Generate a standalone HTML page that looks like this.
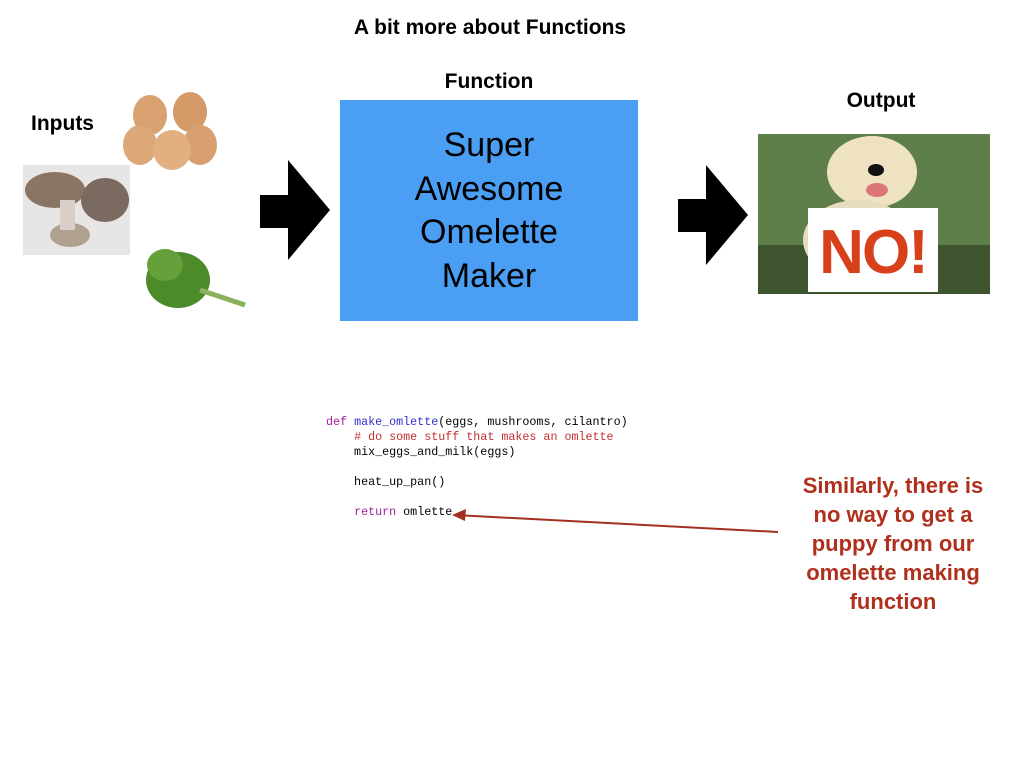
<!DOCTYPE html>
<html><head><style>
body{margin:0;width:1024px;height:768px;background:#fff;position:relative;overflow:hidden;font-family:"Liberation Sans",sans-serif}
.a{position:absolute}
.b{font-weight:bold;color:#000}
pre{margin:0;font-family:"Liberation Mono",monospace;font-size:11.7px;line-height:15px;position:absolute;left:326px;top:415px;color:#000}
</style></head><body>
<div class="a b" style="left:0;width:980px;text-align:center;top:16px;font-size:21px">A bit more about Functions</div>
<div class="a b" style="left:340px;width:298px;text-align:center;top:70px;font-size:21px">Function</div>
<div class="a b" style="left:31px;top:112px;font-size:21px">Inputs</div>
<div class="a b" style="left:758px;width:246px;text-align:center;top:89px;font-size:21px">Output</div>
<div class="a" style="left:340px;top:100px;width:298px;height:221px;background:#4a9ff5"></div>
<div class="a" style="left:340px;top:124px;width:298px;text-align:center;font-size:34px;line-height:43.5px">Super<br>Awesome<br>Omelette<br>Maker</div>
<svg class="a" style="left:0;top:0" width="1024" height="768">
<polygon points="260,195 288,195 288,160 330,210 288,260 288,228 260,228" fill="#000"/>
<polygon points="678,199 706,199 706,165 748,215 706,265 706,232 678,232" fill="#000"/>
<ellipse cx="150" cy="115" rx="17" ry="20" fill="#d9a070"/>
<ellipse cx="190" cy="112" rx="17" ry="20" fill="#d49a68"/>
<ellipse cx="140" cy="145" rx="17" ry="20" fill="#dca878"/>
<ellipse cx="200" cy="145" rx="17" ry="20" fill="#d8a070"/>
<ellipse cx="172" cy="150" rx="19" ry="20" fill="#e2b080"/>
<rect x="23" y="165" width="107" height="90" fill="#e8e6e4"/>
<ellipse cx="55" cy="190" rx="30" ry="18" fill="#8a7565"/>
<ellipse cx="105" cy="200" rx="24" ry="22" fill="#7a6a60"/>
<ellipse cx="70" cy="235" rx="20" ry="12" fill="#b0a090"/>
<rect x="60" y="200" width="15" height="30" fill="#d8d0c8"/>
<ellipse cx="178" cy="280" rx="32" ry="28" fill="#4d8a2a"/>
<ellipse cx="165" cy="265" rx="18" ry="16" fill="#65a03a"/>
<line x1="200" y1="290" x2="245" y2="305" stroke="#8ab060" stroke-width="5"/>
<rect x="758" y="134" width="232" height="160" fill="#5e7e4a"/>
<rect x="758" y="245" width="232" height="49" fill="#3e5530"/>
<ellipse cx="872" cy="172" rx="45" ry="36" fill="#efe2c2"/>
<ellipse cx="858" cy="240" rx="55" ry="40" fill="#e8dcc0"/>
<ellipse cx="876" cy="170" rx="8" ry="6" fill="#111"/>
<ellipse cx="877" cy="190" rx="11" ry="7" fill="#d77"/>
<rect x="808" y="208" width="130" height="84" fill="#fff"/>
<line x1="778" y1="532" x2="455" y2="515" stroke="#a33020" stroke-width="2"/>
<polygon points="452,515 466,509 465,521" fill="#a33020"/>
</svg>
<div class="a" style="left:808px;width:130px;top:217px;text-align:center;font-size:62px;font-weight:bold;color:#d8401c;letter-spacing:-2px">NO!</div>
<pre><span style="color:#a020a0">def</span> <span style="color:#3030d0">make_omlette</span>(eggs, mushrooms, cilantro)
    <span style="color:#c03030"># do some stuff that makes an omlette</span>
    mix_eggs_and_milk(eggs)

    heat_up_pan()

    <span style="color:#a020a0">return</span> omlette</pre>
<div class="a" style="left:780px;width:226px;top:471px;text-align:center;font-size:22px;line-height:29px;font-weight:bold;color:#b0301e">Similarly, there is<br>no way to get a<br>puppy from our<br>omelette making<br>function</div>
</body></html>
